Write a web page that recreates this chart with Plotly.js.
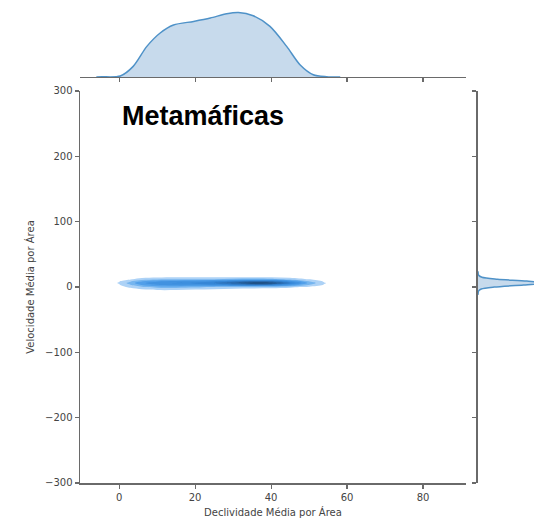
<!DOCTYPE html>
<html>
<head>
<meta charset="utf-8">
<script src="https://cdn.plot.ly/plotly-3.0.1.min.js"></script>
<style>html,body{margin:0;padding:0;background:#fff;}</style>
</head>
<body>
<div id="chart" style="width:534px;height:525px;"></div>
<script>
// Top marginal KDE (Declividade)
const topX = [-6, -4.5, 0.3, 3.7, 7.3, 10.8, 14.3, 19.6, 24, 28.3, 31.4, 35.3, 39.7, 44.1, 47.6, 51.1, 54.6, 58.2];
const topD = [0, 0.2, 1, 10.6, 30.6, 44, 52, 55.6, 59, 63.3, 64.6, 61.3, 50.6, 30.6, 12.3, 2.3, 0.3, 0];

// Right marginal KDE (Velocidade)
const rightY = [-12, -6, -3, 0, 3, 6, 9, 12, 15, 18, 24];
const rightD = [0, 0.01, 0.05, 0.25, 0.7, 1.0, 0.75, 0.3, 0.06, 0.01, 0];

// 2D KDE density grid
const gridX = [-3, 0, 3, 6, 10, 15, 20, 25, 30, 35, 40, 45, 50, 54, 57];
const gridY = [-8, -4, 0, 3, 6, 9, 12, 15, 19];
const density = [
  [0, 0,    0,    0,    0,    0,    0,    0,    0,    0,    0,    0,    0,    0,    0],
  [0, 0,    0.01, 0.04, 0.06, 0.06, 0.05, 0.03, 0.01, 0,    0,    0,    0,    0,    0],
  [0, 0.02, 0.07, 0.13, 0.18, 0.2,  0.18, 0.14, 0.12, 0.11, 0.1,  0.07, 0.03, 0.01, 0],
  [0, 0.04, 0.14, 0.26, 0.34, 0.38, 0.38, 0.42, 0.48, 0.53, 0.5,  0.33, 0.14, 0.04, 0],
  [0, 0.06, 0.2,  0.33, 0.42, 0.46, 0.48, 0.55, 0.7,  0.88, 0.85, 0.55, 0.22, 0.06, 0],
  [0, 0.04, 0.13, 0.24, 0.32, 0.35, 0.37, 0.42, 0.5,  0.58, 0.56, 0.38, 0.14, 0.03, 0],
  [0, 0.01, 0.04, 0.09, 0.12, 0.13, 0.14, 0.15, 0.17, 0.19, 0.17, 0.11, 0.04, 0.01, 0],
  [0, 0,    0,    0.02, 0.04, 0.05, 0.05, 0.05, 0.05, 0.05, 0.04, 0.02, 0,    0,    0],
  [0, 0,    0,    0,    0,    0,    0,    0,    0,    0,    0,    0,    0,    0,    0]
];

const xTicks = [0, 20, 40, 60, 80];
const yTicks = [-300, -200, -100, 0, 100, 200, 300];
const mainTitle = 'Metamáficas';
const xTitle = 'Declividade Média por Área';
const yTitle = 'Velocidade Média por Área';

const lineCol = '#6a6a6a';
const tickFont = {family: 'DejaVu Sans', size: 10, color: '#444'};
const blueLine = '#4f92c8';
const blueFill = 'rgba(82,140,196,0.32)';

const traces = [
  {
    type: 'contour', x: gridX, y: gridY, z: density,
    xaxis: 'x', yaxis: 'y',
    zmin: 0, zmax: 1,
    autocontour: false,
    contours: {start: 0.05, end: 1.0, size: 0.1, coloring: 'fill', showlines: false},
    line: {width: 0, smoothing: 1.0},
    colorscale: [
      [0, 'rgba(255,255,255,0)'], [0.049, 'rgba(255,255,255,0)'],
      [0.05, '#b0d4f6'], [0.15, '#7ab8f0'], [0.3, '#4a9be8'], [0.5, '#3586d6'],
      [0.7, '#2867aa'], [0.85, '#1f5084'], [1, '#1a4068']
    ],
    showscale: false, hoverinfo: 'skip'
  },
  {
    type: 'scatter', mode: 'lines', x: topX, y: topD,
    xaxis: 'x2', yaxis: 'y2',
    line: {color: blueLine, width: 1.5, shape: 'spline', smoothing: 0.8},
    fill: 'tozeroy', fillcolor: blueFill, hoverinfo: 'skip'
  },
  {
    type: 'scatter', mode: 'lines', x: rightD, y: rightY,
    xaxis: 'x3', yaxis: 'y3',
    line: {color: blueLine, width: 1.5, shape: 'spline', smoothing: 0.8},
    fill: 'tozerox', fillcolor: blueFill, hoverinfo: 'skip'
  }
];

const xDom = [0, 0.8502];
const yDom = [0, 0.8116];
const axBase = {
  showgrid: false, zeroline: false, showline: true, linecolor: lineCol, linewidth: 1.5,
  ticks: 'outside', ticklen: 4, tickwidth: 1.2, tickcolor: lineCol, tickfont: tickFont
};

const layout = {
  width: 534, height: 525,
  margin: {l: 80, r: 0, t: 0, b: 42},
  paper_bgcolor: '#fff', plot_bgcolor: 'rgba(0,0,0,0)',
  showlegend: false,
  xaxis: Object.assign({}, axBase, {
    domain: xDom, range: [-10.3, 91.3], tickvals: xTicks, anchor: 'y',
    title: {text: xTitle, font: {family: 'DejaVu Sans', size: 10, color: '#444'}, standoff: 7}
  }),
  yaxis: Object.assign({}, axBase, {
    domain: yDom, range: [-300, 300], tickvals: yTicks, anchor: 'x',
    title: {text: yTitle, font: {family: 'DejaVu Sans', size: 10, color: '#444'}, standoff: 8}
  }),
  xaxis2: Object.assign({}, axBase, {
    domain: xDom, range: [-10.3, 91.3], tickvals: xTicks, showticklabels: false, anchor: 'y2'
  }),
  yaxis2: {domain: [0.8406, 1], range: [0, 77], visible: false, anchor: 'x2'},
  xaxis3: {domain: [0.8766, 1], range: [0, 0.86], visible: false, anchor: 'y3'},
  yaxis3: Object.assign({}, axBase, {
    domain: yDom, range: [-300, 300], tickvals: yTicks, showticklabels: false, anchor: 'x3'
  }),
  annotations: [{
    text: '<b>' + mainTitle + '</b>', xref: 'x', yref: 'y', x: 0.3, y: 262,
    xanchor: 'left', yanchor: 'middle', showarrow: false,
    font: {family: 'Liberation Sans', size: 27, color: '#000'}
  }]
};

Plotly.newPlot('chart', traces, layout, {displayModeBar: false, staticPlot: true});
</script>
</body>
</html>
